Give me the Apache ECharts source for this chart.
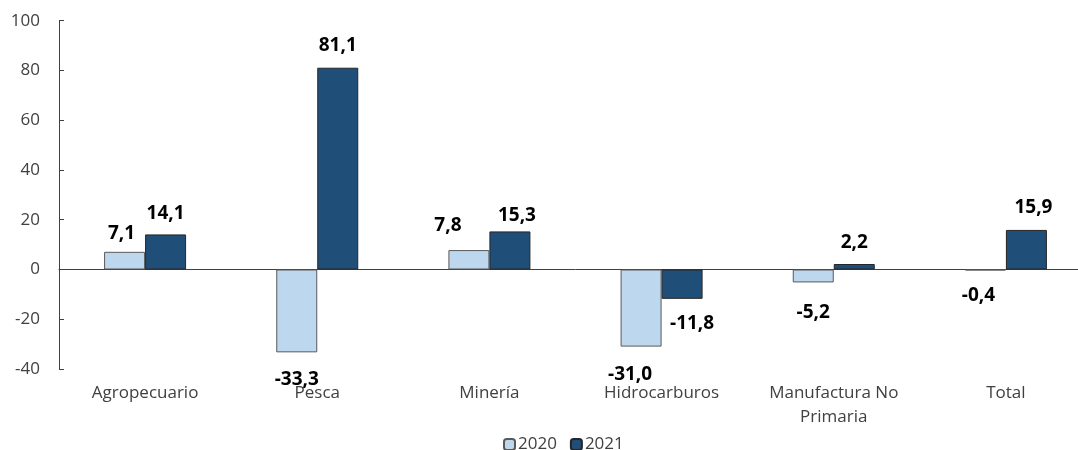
<!DOCTYPE html>
<html>
<head>
<meta charset="utf-8">
<script src="https://cdn.jsdelivr.net/npm/echarts@6/dist/echarts.min.js"></script>
<style>
html,body{margin:0;padding:0;background:#fff;overflow:hidden;}
#chart{width:1092px;height:450px;}
</style>
</head>
<body>
<div id="chart"></div>
<script>
const categories = ['Agropecuario', 'Pesca', 'Minería', 'Hidrocarburos', 'Manufactura No\nPrimaria', 'Total'];
const seriesNames = ['2020', '2021'];
const values2020 = [7.1, -33.3, 7.8, -31.0, -5.2, -0.4];
const values2021 = [14.1, 81.1, 15.3, -11.8, 2.2, 15.9];
const yTicks = [-40, -20, 0, 20, 40, 60, 80, 100];
const labelShift2020 = [[-3, 0], [0, 9], [-21, -6], [-11, 9], [0, 12], [-7, 7]];
const labelShift2021 = [[0, -2], [0, -4], [7, 3], [10, 6], [0, -3], [7, -4]];

const FONT = '"Open Sans", Lato, sans-serif';
function fmt(v) { return v.toFixed(1).replace('.', ','); }
function buildData(vals, shifts) {
  return vals.map((v, i) => ({
    value: v,
    label: { position: v < 0 ? 'bottom' : 'top', offset: shifts[i] }
  }));
}
const labelStyle = {
  show: true,
  distance: 9,
  fontFamily: FONT,
  fontWeight: 'bold',
  fontSize: 19,
  color: '#000',
  formatter: p => fmt(p.value)
};

const chart = echarts.init(document.getElementById('chart'));
chart.setOption({
  animation: false,
  textStyle: { fontFamily: FONT },
  grid: { left: 59, top: 20.7, right: 0, height: 348.3, containLabel: false },
  legend: {
    data: seriesNames,
    top: 431,
    left: 498,
    itemWidth: 11,
    itemHeight: 11,
    itemGap: 13,
    textStyle: { fontFamily: FONT, fontSize: 17, color: '#404040', padding: [0, 0, 0, -2] }
  },
  xAxis: [
    {
      type: 'category',
      data: categories,
      axisLine: { show: true, onZero: true, lineStyle: { color: '#404040', width: 1 } },
      axisTick: { show: false },
      axisLabel: { show: false },
      splitLine: { show: false }
    },
    {
      type: 'category',
      data: categories,
      position: 'bottom',
      axisLine: { show: false, onZero: false },
      axisTick: { show: false },
      axisLabel: { show: true, margin: 12, fontFamily: FONT, fontSize: 17, color: '#404040', lineHeight: 24 },
      splitLine: { show: false }
    }
  ],
  yAxis: {
    type: 'value',
    min: yTicks[0],
    max: yTicks[yTicks.length - 1],
    interval: 20,
    axisLine: { show: true, lineStyle: { color: '#404040', width: 1 } },
    axisTick: { show: true, inside: true, length: 5, lineStyle: { color: '#404040' } },
    axisLabel: { margin: 19, fontFamily: FONT, fontSize: 17, color: '#404040' },
    splitLine: { show: false }
  },
  series: [
    {
      name: seriesNames[0],
      type: 'bar',
      xAxisIndex: 0,
      barWidth: 41,
      barGap: '0%',
      data: buildData(values2020, labelShift2020),
      itemStyle: { color: '#BDD7EE', borderColor: '#595959', borderWidth: 1 },
      label: labelStyle
    },
    {
      name: seriesNames[1],
      type: 'bar',
      xAxisIndex: 0,
      barWidth: 41,
      barGap: '0%',
      data: buildData(values2021, labelShift2021),
      itemStyle: { color: '#1F4E79', borderColor: '#262626', borderWidth: 1 },
      label: labelStyle
    }
  ]
});
</script>
</body>
</html>
